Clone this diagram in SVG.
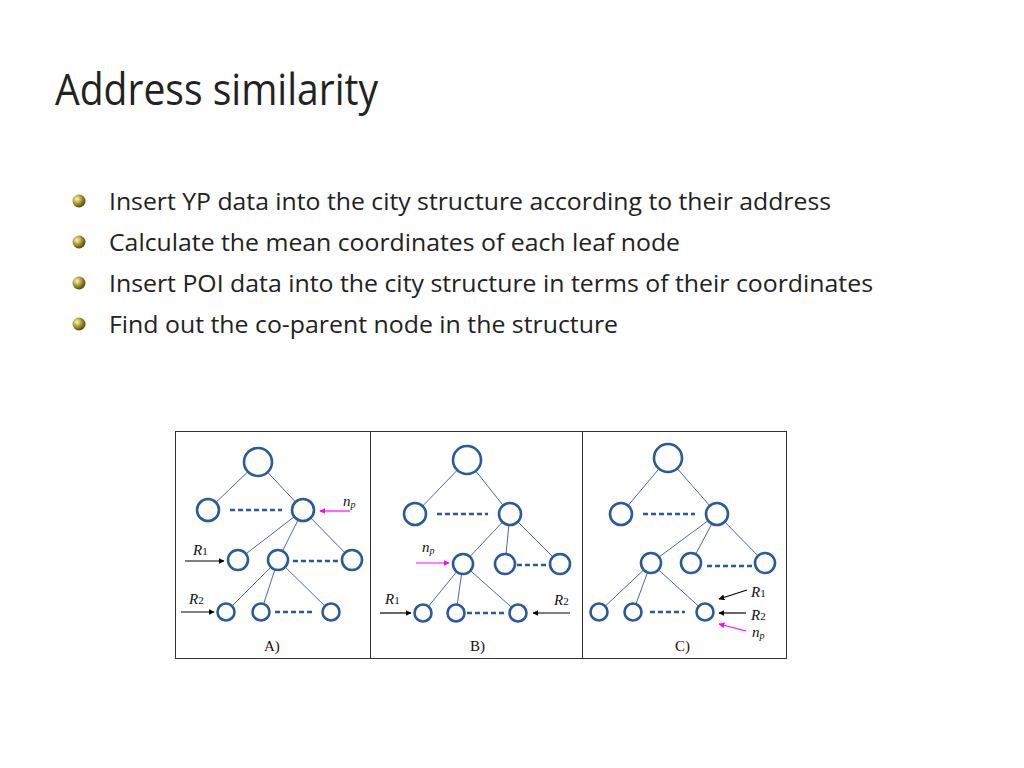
<svg xmlns="http://www.w3.org/2000/svg" width="1024" height="768" viewBox="0 0 1024 768">
<defs>
<radialGradient id="ball" cx="0.35" cy="0.35" r="0.7"><stop offset="0" stop-color="#fff8c0"/><stop offset="0.5" stop-color="#a89a30"/><stop offset="1" stop-color="#4a4010"/></radialGradient>
<marker id="ak" viewBox="0 0 10 10" refX="9" refY="5" markerWidth="5" markerHeight="5" orient="auto"><path d="M0,0L10,5L0,10z" fill="#000"/></marker>
<marker id="am" viewBox="0 0 10 10" refX="9" refY="5" markerWidth="5" markerHeight="5" orient="auto"><path d="M0,0L10,5L0,10z" fill="#ff00ff"/></marker>
</defs>
<style>
.t{font-family:"Open Sans","Liberation Sans",sans-serif;font-size:23px;fill:#222}
.n{fill:#fff;stroke:#2a5a9a;stroke-width:2.6}
.e{stroke:#4a6aa0;stroke-width:1}
.d{stroke:#2a5a9a;stroke-width:2.6;stroke-dasharray:5,3}
.l{font-family:"Liberation Serif",serif;font-size:15px;fill:#111}
.k{stroke:#000;stroke-width:1.2;marker-end:url(#ak)}
.m{stroke:#ff00ff;stroke-width:1.2;marker-end:url(#am)}
</style>
<rect width="1024" height="768" fill="#fff"/>
<text x="55" y="105" font-family="Open Sans, Liberation Sans, sans-serif" font-size="44" fill="#222" textLength="323" lengthAdjust="spacingAndGlyphs">Address similarity</text>
<g fill="url(#ball)"><circle cx="79" cy="201" r="6.5"/><circle cx="79" cy="242" r="6.5"/><circle cx="79" cy="283" r="6.5"/><circle cx="79" cy="324" r="6.5"/></g>
<text class="t" x="109" y="210" textLength="722" lengthAdjust="spacingAndGlyphs">Insert YP data into the city structure according to their address</text>
<text class="t" x="109" y="251" textLength="571" lengthAdjust="spacingAndGlyphs">Calculate the mean coordinates of each leaf node</text>
<text class="t" x="109" y="292" textLength="764" lengthAdjust="spacingAndGlyphs">Insert POI data into the city structure in terms of their coordinates</text>
<text class="t" x="109" y="333" textLength="509" lengthAdjust="spacingAndGlyphs">Find out the co-parent node in the structure</text>
<g id="frame" fill="none" stroke="#333" stroke-width="1"><rect x="175.5" y="431.5" width="611" height="227"/><line x1="370.5" y1="431" x2="370.5" y2="658"/><line x1="582.5" y1="431" x2="582.5" y2="658"/></g>
<g id="connectors">
<g class="e">
<line x1="258" y1="462" x2="208" y2="510"/><line x1="258" y1="462" x2="303" y2="510"/>
<line x1="303" y1="510" x2="238" y2="560"/><line x1="303" y1="510" x2="278" y2="560"/><line x1="303" y1="510" x2="352" y2="560"/>
<line x1="278" y1="560" x2="226" y2="612"/><line x1="278" y1="560" x2="261" y2="612"/><line x1="278" y1="560" x2="331" y2="612"/>
<line x1="467" y1="460" x2="415" y2="514"/><line x1="467" y1="460" x2="510" y2="514"/>
<line x1="510" y1="514" x2="463" y2="564"/><line x1="510" y1="514" x2="505" y2="564"/><line x1="510" y1="514" x2="560" y2="564"/>
<line x1="463" y1="564" x2="423" y2="613"/><line x1="463" y1="564" x2="456" y2="613"/><line x1="463" y1="564" x2="518" y2="613"/>
<line x1="668" y1="458" x2="621" y2="514"/><line x1="668" y1="458" x2="717" y2="514"/>
<line x1="717" y1="514" x2="651" y2="563"/><line x1="717" y1="514" x2="691" y2="563"/><line x1="717" y1="514" x2="765" y2="563"/>
<line x1="651" y1="563" x2="599" y2="612"/><line x1="651" y1="563" x2="633" y2="612"/><line x1="651" y1="563" x2="705" y2="612"/>
</g>
<g class="d">
<line x1="230" y1="510" x2="282" y2="510"/><line x1="293" y1="561" x2="340" y2="561"/><line x1="275" y1="612" x2="312" y2="612"/>
<line x1="437" y1="514" x2="488" y2="514"/><line x1="517" y1="565" x2="548" y2="565"/><line x1="467" y1="613" x2="507" y2="613"/>
<line x1="643" y1="514" x2="695" y2="514"/><line x1="707" y1="566" x2="752" y2="566"/><line x1="650" y1="612" x2="685" y2="612"/>
</g>
<line class="m" x1="350" y1="511" x2="320" y2="511"/>
<line class="k" x1="185" y1="561" x2="224" y2="561"/>
<line class="k" x1="181" y1="612" x2="214" y2="612"/>
<line class="m" x1="416" y1="563" x2="449" y2="563"/>
<line class="k" x1="380" y1="613" x2="411" y2="613"/>
<line class="k" x1="570" y1="613" x2="533" y2="613"/>
<line class="k" x1="747" y1="590" x2="719" y2="599"/>
<line class="k" x1="746" y1="613" x2="719" y2="613" stroke="#777"/>
<line class="m" x1="746" y1="631" x2="719" y2="624"/>
</g>
<g id="nodes">
<circle class="n" cx="258" cy="462" r="14"/><circle class="n" cx="208" cy="510" r="11"/><circle class="n" cx="303" cy="510" r="11"/>
<circle class="n" cx="238" cy="560" r="10"/><circle class="n" cx="278" cy="560" r="10"/><circle class="n" cx="352" cy="560" r="10"/>
<circle class="n" cx="226" cy="612" r="8.5"/><circle class="n" cx="261" cy="612" r="8.5"/><circle class="n" cx="331" cy="612" r="8.5"/>
<circle class="n" cx="467" cy="460" r="14"/><circle class="n" cx="415" cy="514" r="11"/><circle class="n" cx="510" cy="514" r="11"/>
<circle class="n" cx="463" cy="564" r="10"/><circle class="n" cx="505" cy="564" r="10"/><circle class="n" cx="560" cy="564" r="10"/>
<circle class="n" cx="423" cy="613" r="8.5"/><circle class="n" cx="456" cy="613" r="8.5"/><circle class="n" cx="518" cy="613" r="8.5"/>
<circle class="n" cx="668" cy="458" r="14"/><circle class="n" cx="621" cy="514" r="11"/><circle class="n" cx="717" cy="514" r="11"/>
<circle class="n" cx="651" cy="563" r="10"/><circle class="n" cx="691" cy="563" r="10"/><circle class="n" cx="765" cy="563" r="10"/>
<circle class="n" cx="599" cy="612" r="8.5"/><circle class="n" cx="633" cy="612" r="8.5"/><circle class="n" cx="705" cy="612" r="8.5"/>
</g>
<g id="labels" class="l">
<text x="343" y="506" font-style="italic">n<tspan font-size="10" dy="2">p</tspan></text>
<text x="193" y="555"><tspan font-style="italic">R</tspan><tspan font-size="11">1</tspan></text>
<text x="189" y="604"><tspan font-style="italic">R</tspan><tspan font-size="11">2</tspan></text>
<text x="264" y="651">A)</text>
<text x="422" y="552" font-style="italic">n<tspan font-size="10" dy="2">p</tspan></text>
<text x="385" y="604"><tspan font-style="italic">R</tspan><tspan font-size="11">1</tspan></text>
<text x="554" y="605"><tspan font-style="italic">R</tspan><tspan font-size="11">2</tspan></text>
<text x="470" y="651">B)</text>
<text x="751" y="597"><tspan font-style="italic">R</tspan><tspan font-size="11">1</tspan></text>
<text x="751" y="620"><tspan font-style="italic">R</tspan><tspan font-size="11">2</tspan></text>
<text x="752" y="637" font-style="italic">n<tspan font-size="10" dy="2">p</tspan></text>
<text x="675" y="651">C)</text>
</g>
</svg>
